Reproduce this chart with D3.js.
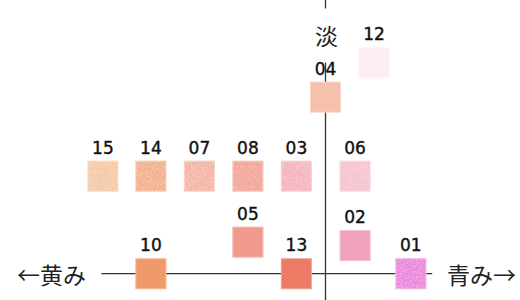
<!DOCTYPE html>
<html>
<head>
<meta charset="utf-8">
<script src="https://cdn.jsdelivr.net/npm/d3@7"></script>
<style>
  html, body { margin: 0; padding: 0; background: #fff; }
  svg { display: block; }
</style>
</head>
<body>
<svg id="chart"></svg>
<script>
// shade numbers, position on the yellow(-)/blue(+) axis and the light axis
const shades    = ["01", "02", "03", "04", "05", "06", "07", "08", "10", "12", "13", "14", "15"];
const blueness  = [1.76, 0.61, -0.6, 0, -1.6, 0.61, -2.6, -1.6, -3.6, 1.0, -0.6, -3.6, -4.59];
const lightness = [0, 0.58, 2.01, 3.64, 0.65, 2.01, 2.01, 2.01, 0, 4.35, 0, 2.01, 2.01];
const colors    = ["#ea86dc", "#f0a1bb", "#f4b4c0", "#f5c1ad", "#ef9a8a", "#f7c2cf", "#f4b5a6",
                   "#f2a9a0", "#f0996a", "#fcecf2", "#ec7a64", "#f2b18b", "#f5c9a6"];
const finishes  = ["glitter", "matte", "glitter", "matte", "matte", "glitter", "glitter",
                   "gold", "matte", "glitter", "matte", "glitter", "glitter"];
const axisLabels = { left: "←黄み", right: "青み→", top: "淡" };

let width = 520, height = 300;
let originX = 325.5, originY = 273.7, unit = 48.5; // px per axis unit
let boxSize = 31;

let svg = d3.select("#chart").attr("width", width).attr("height", height);

let x = d3.scaleLinear().domain([-5, 2]).range([originX - 5 * unit, originX + 2 * unit]);
let y = d3.scaleLinear().domain([0, 5]).range([originY, originY - 5 * unit]);

// glitter textures
let defs = svg.append("defs");
function sparkle(id, r, g, b, amount, cut) {
    let f = defs.append("filter").attr("id", id)
        .attr("x", 0).attr("y", 0).attr("width", 1).attr("height", 1);
    f.append("feTurbulence").attr("type", "fractalNoise")
        .attr("baseFrequency", 1.2).attr("numOctaves", 1).attr("seed", 5).attr("result", "noise");
    f.append("feColorMatrix").attr("in", "noise").attr("type", "matrix")
        .attr("values", `0 0 0 0 ${r}  0 0 0 0 ${g}  0 0 0 0 ${b}  ${amount} 0 0 0 ${-amount * cut}`)
        .attr("result", "specks");
    f.append("feComposite").attr("in", "specks").attr("in2", "SourceAlpha")
        .attr("operator", "in").attr("result", "clipped");
    let m = f.append("feMerge");
    m.append("feMergeNode").attr("in", "SourceGraphic");
    m.append("feMergeNode").attr("in", "clipped");
}
sparkle("glitter", 1, 1, 1, 1.1, 0.45);
sparkle("gold", 1, 0.88, 0.5, 2.5, 0.55);

// axes
svg.append("line")
    .attr("x1", x(-4.62)).attr("x2", x(2.2))
    .attr("y1", y(0)).attr("y2", y(0))
    .attr("stroke", "#333").attr("stroke-width", 1.3);
svg.append("line")
    .attr("x1", x(0)).attr("x2", x(0))
    .attr("y1", 0).attr("y2", height)
    .attr("stroke", "#333").attr("stroke-width", 1.3);

// white box behind the top label
svg.append("rect")
    .attr("x", x(0) - 16).attr("y", 8.5)
    .attr("width", 32).attr("height", 54)
    .attr("fill", "#fff");

let cjk = "'Noto Sans CJK JP', 'Noto Sans', sans-serif";
svg.append("text").text(axisLabels.top)
    .attr("x", x(0) + 1).attr("y", 45)
    .attr("text-anchor", "middle")
    .attr("font-family", cjk).attr("font-size", 23).attr("fill", "#222");
svg.append("text").text(axisLabels.left)
    .attr("x", 17).attr("y", 283.5)
    .attr("font-family", cjk).attr("font-size", 23).attr("fill", "#222");
svg.append("text").text(axisLabels.right)
    .attr("x", 447).attr("y", 283.5)
    .attr("font-family", cjk).attr("font-size", 23).attr("fill", "#222");

// shade swatches
let data = shades.map((s, i) => ({
    name: s, bx: blueness[i], ly: lightness[i], color: colors[i], finish: finishes[i]
}));

let g = svg.selectAll(".shade").data(data).enter()
    .append("g").attr("class", "shade");

g.append("rect")
    .attr("x", d => x(d.bx) - boxSize / 2)
    .attr("y", d => y(d.ly) - boxSize / 2)
    .attr("width", boxSize).attr("height", boxSize)
    .attr("fill", d => d.color)
    .attr("filter", d => d.finish == "matte" ? null : `url(#${d.finish})`);

g.append("rect")
    .attr("x", d => x(d.bx) - boxSize / 2 + 0.5)
    .attr("y", d => y(d.ly) - boxSize / 2 + 0.5)
    .attr("width", boxSize - 1).attr("height", boxSize - 1)
    .attr("fill", "none").attr("stroke", "#fff").attr("stroke-opacity", 0.35);

g.append("text")
    .text(d => d.name)
    .attr("x", d => x(d.bx))
    .attr("y", d => y(d.ly) - boxSize / 2 - 7)
    .attr("text-anchor", "middle")
    .attr("font-family", "'DejaVu Sans', sans-serif")
    .attr("font-size", 17)
    .attr("fill", "#111")
    .attr("stroke", "#111").attr("stroke-width", 0.4);
</script>
</body>
</html>
